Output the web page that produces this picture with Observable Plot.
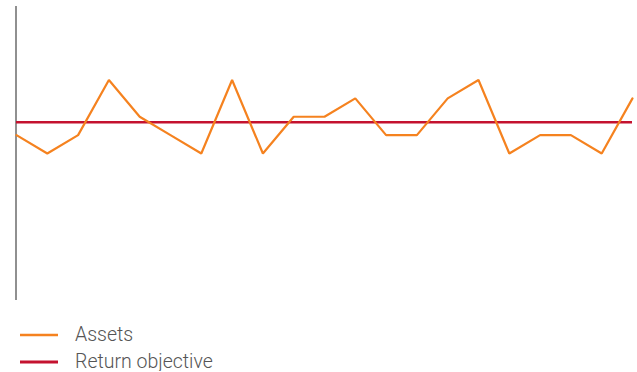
<!DOCTYPE html>
<html>
<head>
<meta charset="utf-8">
<script src="https://cdn.jsdelivr.net/npm/d3@7"></script>
<script src="https://cdn.jsdelivr.net/npm/@observablehq/plot@0.6"></script>
<style>
  body { margin: 0; background: #fff; font-family: Roboto, "Liberation Sans", sans-serif; }
  #chart svg { display: block; }
  .legend { position: relative; height: 66px; }
  .item { position: absolute; left: 20px; display: flex; align-items: center; font-size: 19.5px; line-height: 18px; font-weight: 300; color: #555; }
  .item svg { margin-right: 17px; }
</style>
</head>
<body>
<div id="chart"></div>
<div class="legend" id="legend"></div>
<script>
// Period index and return (%) per period
const periods = d3.range(0, 21);
const assets = [5, 4, 5, 8, 6, 5, 4, 8, 4, 6, 6, 7, 5, 5, 7, 8, 4, 5, 5, 4, 7];
const returnObjective = 5.7;
const seriesNames = ["Assets", "Return objective"];
const seriesColors = ["#f5821f", "#c4122f"];

const data = periods.map((p, i) => ({period: p, value: assets[i]}));

const chart = Plot.plot({
  width: 637,
  height: 305,
  marginTop: 6,
  marginBottom: 5,
  marginLeft: 16,
  marginRight: 5,
  x: {domain: [0, 20], axis: null},
  y: {domain: [-4, 12], axis: null},
  marks: [
    Plot.ruleX([0], {stroke: "#6b6b6b", strokeWidth: 1.5, dx: -0.5}),
    Plot.ruleY([returnObjective], {stroke: seriesColors[1], strokeWidth: 2.5}),
    Plot.line(data, {x: "period", y: "value", stroke: seriesColors[0], strokeWidth: 2.2, strokeLinejoin: "miter"})
  ]
});
document.getElementById("chart").append(chart);

// Legend below the chart
const legend = document.getElementById("legend");
seriesNames.forEach((name, i) => {
  const item = document.createElement("div");
  item.className = "item";
  item.style.top = (i === 0 ? 21 : 48) + "px";
  item.innerHTML = `<svg width="38" height="18"><line x1="0" x2="38" y1="9" y2="9" stroke="${seriesColors[i]}" stroke-width="${i === 0 ? 2.5 : 3}"/></svg><span>${name}</span>`;
  legend.append(item);
});
</script>
</body>
</html>
